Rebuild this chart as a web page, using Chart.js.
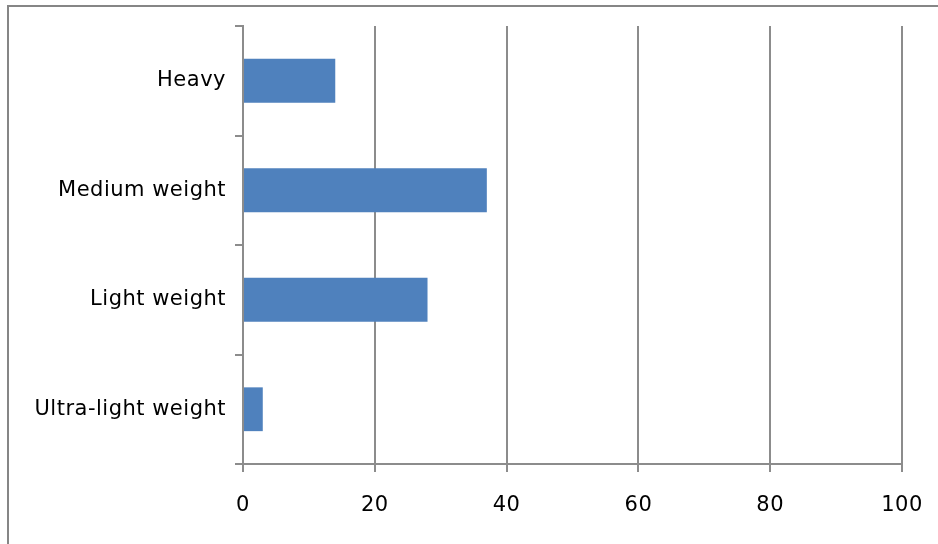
<!DOCTYPE html>
<html>
<head>
<meta charset="utf-8">
<script src="https://cdn.jsdelivr.net/npm/chart.js@4"></script>
<style>
  html, body { margin: 0; padding: 0; background: #fff; }
  #myChart { display: block; }
</style>
</head>
<body>
<canvas id="myChart" width="938" height="544"></canvas>
<script>
// ================= Data =================
const categories = ['Heavy', 'Medium weight', 'Light weight', 'Ultra-light weight'];
const values = [14, 37, 28, 3];
const xTicks = [0, 20, 40, 60, 80, 100];

// ================= Frame plugin =================
// only the top and left edges of the outer frame are inside the picture
const framePlugin = {
  id: 'frame',
  beforeDraw(chart) {
    const c = chart.ctx;
    c.save();
    c.fillStyle = '#fff';
    c.fillRect(0, 0, chart.width, chart.height);
    c.strokeStyle = '#868686';
    c.lineWidth = 2;
    c.beginPath();
    c.moveTo(8, chart.height + 5);
    c.lineTo(8, 6);
    c.lineTo(chart.width + 5, 6);
    c.stroke();
    c.restore();
    c.letterSpacing = '0.5px'; // labels are a bit wider in the original
  }
};

const ctx = document.getElementById('myChart');
const gridColor = '#8c8c8c';
const font = { family: 'DejaVu Sans', size: 21 };

new Chart(ctx, {
  type: 'bar',
  data: {
    labels: categories,
    datasets: [{
      data: values,
      backgroundColor: '#4F81BD',
      barPercentage: 0.4,
      categoryPercentage: 1
    }]
  },
  options: {
    indexAxis: 'y',
    responsive: false,
    animation: false,
    layout: { padding: { top: 26, right: 36, left: 0, bottom: 0 } },
    plugins: {
      legend: { display: false },
      tooltip: { enabled: false }
    },
    scales: {
      x: {
        min: 0,
        max: 100,
        afterBuildTicks(scale) {
          scale.ticks = xTicks.map(v => ({ value: v }));
        },
        afterFit(scale) {
          scale.height = 80;
          scale.paddingRight = 0; // keep plot right edge fixed
          scale.paddingLeft = 0;
        },
        grid: { color: gridColor, lineWidth: 2, tickLength: 8 },
        border: { color: gridColor, width: 2 },
        ticks: { color: '#000', font: font, padding: 21, maxRotation: 0 }
      },
      y: {
        afterFit(scale) { scale.width = 243; },
        grid: { color: gridColor, lineWidth: 2, tickLength: 8, drawOnChartArea: false, offset: true },
        border: { color: gridColor, width: 2 },
        ticks: { color: '#000', font: font, padding: 9 }
      }
    }
  },
  plugins: [framePlugin]
});
</script>
</body>
</html>
